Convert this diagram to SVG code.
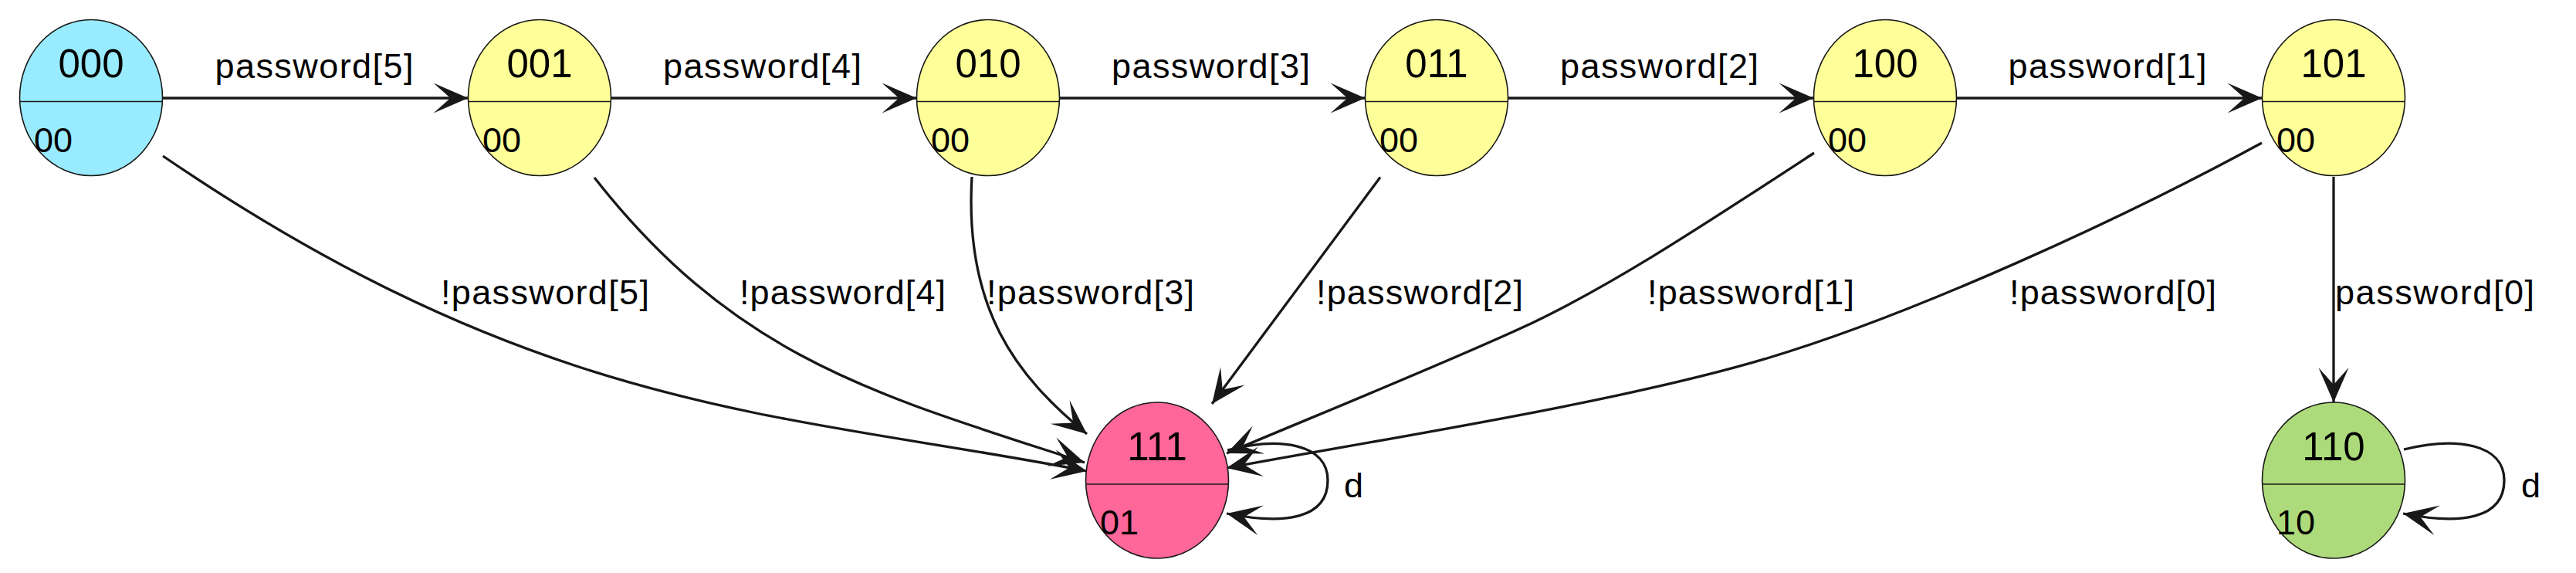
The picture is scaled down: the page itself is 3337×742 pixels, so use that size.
<svg xmlns="http://www.w3.org/2000/svg" width="3337" height="742" viewBox="0 0 3337 742">
<defs>
<marker id="ah" markerUnits="userSpaceOnUse" viewBox="-47 -22 49 44" markerWidth="49" markerHeight="44" refX="0" refY="0" orient="auto">
<path d="M0,0 L-45,-19.6 L-23,0 L-45,19.6 Z" fill="#181818"/>
</marker>
</defs>
<style>
.st{stroke:#181818;stroke-width:1.6}
.dv{stroke:#181818;stroke-width:1.4}
.nm{font-family:"Liberation Sans",Arial,sans-serif;font-size:51px;fill:#000;text-anchor:middle}
.ds{font-family:"Liberation Sans",Arial,sans-serif;font-size:45px;fill:#000}
.lb{font-family:"Liberation Sans",Arial,sans-serif;font-size:45px;fill:#000}
.e{fill:none;stroke:#181818;stroke-width:3.3;marker-end:url(#ah)}
</style>
<rect width="3337" height="742" fill="#fff"/>
<g id="connectors">
<path class="e" d="M210.5,127 L606.5,127"/>
<path class="e" d="M791.5,127 L1187.5,127"/>
<path class="e" d="M1372.5,127 L1768.5,127"/>
<path class="e" d="M1953.5,127 L2349.5,127"/>
<path class="e" d="M2534.5,127 L2930.5,127"/>
<path class="e" d="M3023,229 L3023,521"/>
<path class="e" d="M211,202 C707,540 1016,534 1408,610"/>
<path class="e" d="M770,230 C955,466 1139,512 1405,599"/>
<path class="e" d="M1259,229 C1249,399 1315.6,486.4 1408,562"/>
<path class="e" d="M1788,229.5 L1570,523"/>
<path class="e" d="M2350,198 C2200,296 2080,375 1968,426 S1700,540 1589,587"/>
<path class="e" d="M2930,185 C2750,283 2480,407 2289,464 S1800,567 1589,606"/>
<path class="e" d="M1590,583 C1659,565 1720,575 1720,622 C1720,672 1664,680 1589,665"/>
<path class="e" d="M3114,582 C3183,565 3244,575 3244,622 C3244,672 3188,680 3113,665"/>
<text class="lb" x="278.5" y="101" textLength="257" lengthAdjust="spacing">password[5]</text>
<text class="lb" x="859" y="101" textLength="257" lengthAdjust="spacing">password[4]</text>
<text class="lb" x="1440" y="101" textLength="257" lengthAdjust="spacing">password[3]</text>
<text class="lb" x="2021" y="101" textLength="257" lengthAdjust="spacing">password[2]</text>
<text class="lb" x="2601.5" y="101" textLength="257" lengthAdjust="spacing">password[1]</text>
<text class="lb" x="571" y="394" textLength="270" lengthAdjust="spacing">!password[5]</text>
<text class="lb" x="958" y="394" textLength="267" lengthAdjust="spacing">!password[4]</text>
<text class="lb" x="1278" y="394" textLength="269" lengthAdjust="spacing">!password[3]</text>
<text class="lb" x="1705" y="394" textLength="268" lengthAdjust="spacing">!password[2]</text>
<text class="lb" x="2134" y="394" textLength="268" lengthAdjust="spacing">!password[1]</text>
<text class="lb" x="2603" y="394" textLength="268" lengthAdjust="spacing">!password[0]</text>
<text class="lb" x="3025" y="394" textLength="258" lengthAdjust="spacing">password[0]</text>
<text class="lb" x="1741" y="643.5">d</text>
<text class="lb" x="3266" y="643.5">d</text>
</g>
<g id="n000">
<ellipse class="st" cx="118" cy="126.5" rx="92.5" ry="101" fill="#99EBFF"/>
<line class="dv" x1="25.6" y1="131.5" x2="210.4" y2="131.5"/>
<text class="nm" x="118" y="99.5">000</text>
<text class="ds" x="44" y="197">00</text>
</g>
<g id="n001">
<ellipse class="st" cx="699" cy="126.5" rx="92.5" ry="101" fill="#FFFF99"/>
<line class="dv" x1="606.6" y1="131.5" x2="791.4" y2="131.5"/>
<text class="nm" x="699" y="99.5">001</text>
<text class="ds" x="625" y="197">00</text>
</g>
<g id="n010">
<ellipse class="st" cx="1280" cy="126.5" rx="92.5" ry="101" fill="#FFFF99"/>
<line class="dv" x1="1187.6" y1="131.5" x2="1372.4" y2="131.5"/>
<text class="nm" x="1280" y="99.5">010</text>
<text class="ds" x="1206" y="197">00</text>
</g>
<g id="n011">
<ellipse class="st" cx="1861" cy="126.5" rx="92.5" ry="101" fill="#FFFF99"/>
<line class="dv" x1="1768.6" y1="131.5" x2="1953.4" y2="131.5"/>
<text class="nm" x="1861" y="99.5">011</text>
<text class="ds" x="1787" y="197">00</text>
</g>
<g id="n100">
<ellipse class="st" cx="2442" cy="126.5" rx="92.5" ry="101" fill="#FFFF99"/>
<line class="dv" x1="2349.6" y1="131.5" x2="2534.4" y2="131.5"/>
<text class="nm" x="2442" y="99.5">100</text>
<text class="ds" x="2368" y="197">00</text>
</g>
<g id="n101">
<ellipse class="st" cx="3023" cy="126.5" rx="92.5" ry="101" fill="#FFFF99"/>
<line class="dv" x1="2930.6" y1="131.5" x2="3115.4" y2="131.5"/>
<text class="nm" x="3023" y="99.5">101</text>
<text class="ds" x="2949" y="197">00</text>
</g>
<g id="n111">
<ellipse class="st" cx="1499" cy="622" rx="92.5" ry="101" fill="#FF6699"/>
<line class="dv" x1="1406.6" y1="627" x2="1591.4" y2="627"/>
<text class="nm" x="1499" y="595.5">111</text>
<text class="ds" x="1425" y="692">01</text>
</g>
<g id="n110">
<ellipse class="st" cx="3023" cy="622" rx="92.5" ry="101" fill="#ADDB7B"/>
<line class="dv" x1="2930.6" y1="627" x2="3115.4" y2="627"/>
<text class="nm" x="3023" y="595.5">110</text>
<text class="ds" x="2949" y="692">10</text>
</g>
</svg>
